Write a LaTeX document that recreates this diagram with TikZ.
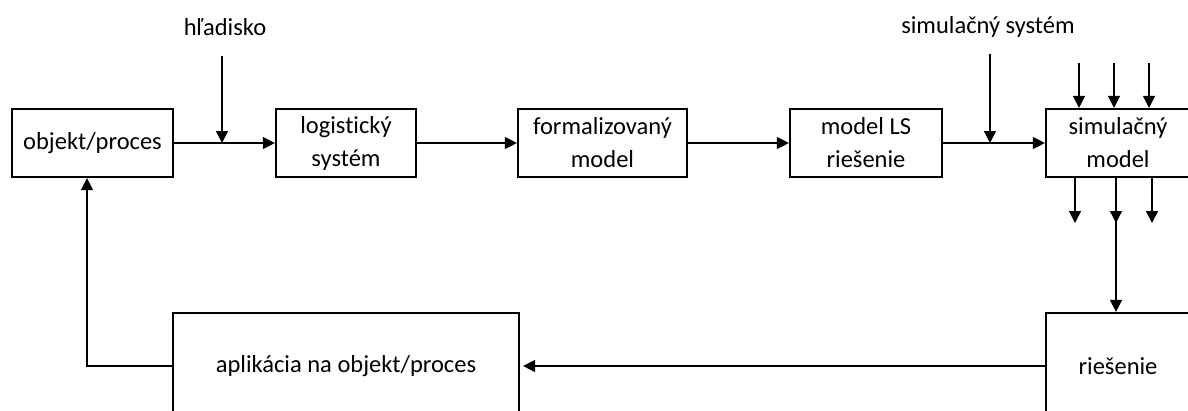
\documentclass[tikz,border=0pt]{standalone}
\usepackage{fontspec}
\setmainfont{Carlito}[Ligatures={NoCommon}]
\usetikzlibrary{arrows.meta}
\begin{document}
\begin{tikzpicture}[x=1pt,y=-1pt,
  box/.style={draw=black,line width=2.2pt,rectangle,align=center,
    minimum height=68pt,inner sep=0pt,
    font=\fontsize{24.5}{33}\selectfont},
  bigbox/.style={box,minimum height=106pt},
  lbl/.style={font=\fontsize{24.5}{33}\selectfont,inner sep=0pt},
  arr/.style={line width=1.3pt,-{Triangle[length=12pt,width=12pt]}},
  ln/.style={line width=1.3pt}]
\useasboundingbox (0,0) rectangle (1188,410);
\clip (0,0) rectangle (1188,410);
\fill[white] (0,0) rectangle (1188,410);

% upper row of blocks
\node[box,minimum width=161pt] (obj) at (92.5,143) {objekt/proces};
\node[box,minimum width=140pt] (log) at (346,143) {logistický\\systém};
\node[box,minimum width=169pt] (form) at (602.5,143) {formalizovaný\\model};
\node[box,minimum width=152pt] (mls) at (866,143) {model LS\\riešenie};
\node[box,minimum width=144pt] (sim) at (1118,143) {simulačný\\model};

% lower row of blocks
\node[bigbox,minimum width=346pt] (apl) at (346,366) {aplikácia na objekt/proces};
\node[bigbox,minimum width=144pt] (ries) at (1118,366) {riešenie};

% labels of the side inputs
\node[lbl] (hl) at (225,27) {hľadisko};
\node[lbl] (ss) at (988,27) {simulačný systém};

% main chain
\draw[arr] (obj.east) -- (log.west);
\draw[arr] (log.east) -- (form.west);
\draw[arr] (form.east) -- (mls.west);
\draw[arr] (mls.east) -- (sim.west);

% side inputs onto the chain
\coordinate (hs) at (222,56);
\coordinate (he) at (222,143);
\draw[arr] (hs) -- (he);
\coordinate (ssa) at (990,54);
\coordinate (sse) at (990,143);
\draw[arr] (ssa) -- (sse);

% inputs of the simulation model
\foreach \xx/\nm in {1079/a,1114/b,1149/c}{
  \coordinate (in\nm) at (\xx,63);
  \draw[arr] (in\nm) -- (in\nm |- sim.north);
}

% outputs of the simulation model
\coordinate (outa) at (1075,223);
\coordinate (outc) at (1152,223);
\draw[arr] (outa |- sim.south) -- (outa);
\draw[arr] (outc |- sim.south) -- (outc);
\coordinate (outb) at (1116,223);
\draw[arr] (outb |- sim.south) -- (outb);
\draw[arr] (1116,205) -- (ries.north -| outb);

% results back to the object
\draw[arr,shorten >=3pt] (ries.west) -- (apl.east);
\draw[arr] (apl.west) -| ([xshift=-5.5pt]obj.south);
\end{tikzpicture}
\end{document}
